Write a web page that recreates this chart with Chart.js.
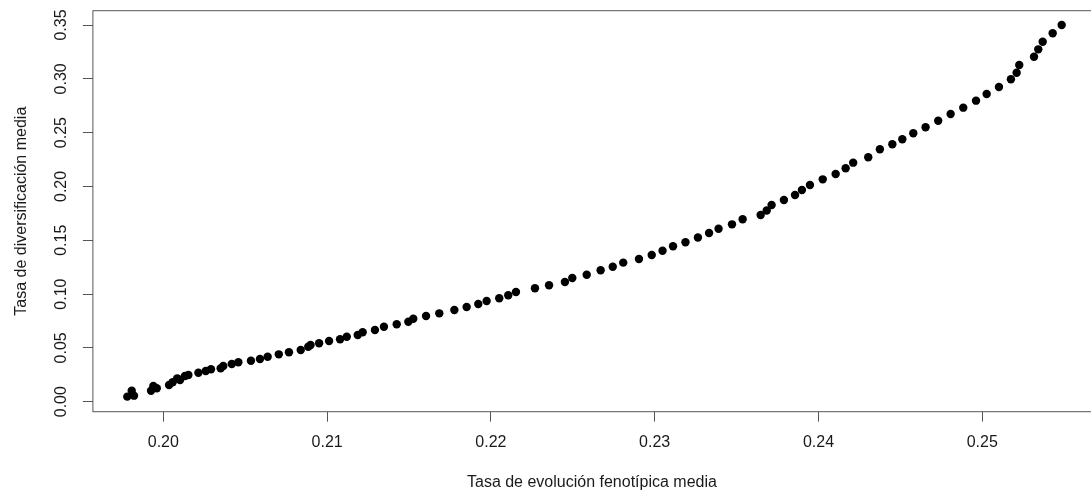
<!DOCTYPE html>
<html><head><meta charset="utf-8">
<script src="https://cdn.jsdelivr.net/npm/chart.js@4.4.1/dist/chart.umd.min.js"></script>
<style>html,body{margin:0;padding:0;background:#fff;overflow:hidden}#wrap{width:1091px;height:496px;position:relative}</style>
</head><body><div id="wrap"><canvas id="c" width="1091" height="496"></canvas></div>
<script>
const xValues = [
0.19780, 0.19807, 0.19821, 0.19925, 0.19939, 0.19960, 0.20035, 0.20057, 0.20085, 0.20102, 0.20132, 0.20153, 0.20214, 0.20259, 0.20291, 0.20350, 0.20366, 0.20418, 0.20458, 0.20535, 0.20590, 0.20637, 0.20705, 0.20767, 0.20839, 0.20885, 0.20899, 0.20951, 0.21012,
0.21079, 0.21120, 0.21187, 0.21217, 0.21292, 0.21347, 0.21425, 0.21496, 0.21526, 0.21604, 0.21685, 0.21777, 0.21852, 0.21923, 0.21974, 0.22051, 0.22106, 0.22153, 0.22269, 0.22355, 0.22452, 0.22497, 0.22585, 0.22670, 0.22744, 0.22808,
0.22904, 0.22982, 0.23048, 0.23112, 0.23188, 0.23264, 0.23332, 0.23390, 0.23472, 0.23537, 0.23647, 0.23684, 0.23714, 0.23789, 0.23857, 0.23899, 0.23948, 0.24026, 0.24105, 0.24166, 0.24212, 0.24304,
0.24375, 0.24451, 0.24512, 0.24579, 0.24654, 0.24731, 0.24807, 0.24884, 0.24962, 0.25027, 0.25102, 0.25175, 0.25210, 0.25226, 0.25316, 0.25342, 0.25369, 0.25430, 0.25485
];
const yValues = [
0.0047, 0.0102, 0.0056, 0.0102, 0.0146, 0.0125, 0.0155, 0.0180, 0.0217, 0.0202, 0.0239, 0.0248, 0.0269, 0.0285, 0.0301, 0.0310, 0.0332, 0.0350, 0.0366, 0.0381, 0.0397, 0.0418, 0.0440, 0.0459, 0.0480, 0.0511, 0.0527, 0.0543, 0.0564,
0.0580, 0.0604, 0.0620, 0.0645, 0.0666, 0.0697, 0.0719, 0.0743, 0.0771, 0.0796, 0.0821, 0.0852, 0.0880, 0.0908, 0.0936, 0.0961, 0.0989, 0.1019, 0.1054, 0.1082, 0.1112, 0.1149, 0.1180, 0.1221, 0.1254, 0.1292,
0.1326, 0.1363, 0.1403, 0.1444, 0.1481, 0.1526, 0.1567, 0.1607, 0.1648, 0.1695, 0.1735, 0.1777, 0.1828, 0.1874, 0.1921, 0.1967, 0.2013, 0.2066, 0.2116, 0.2169, 0.2221, 0.2271,
0.2345, 0.2392, 0.2438, 0.2494, 0.2550, 0.2611, 0.2673, 0.2732, 0.2797, 0.2859, 0.2924, 0.2996, 0.3057, 0.3128, 0.3205, 0.3274, 0.3345, 0.3423, 0.3500
];
const xTicks = [0.20, 0.21, 0.22, 0.23, 0.24, 0.25];
const yTicks = [0.00, 0.05, 0.10, 0.15, 0.20, 0.25, 0.30, 0.35];
const xTitle = 'Tasa de evolución fenotípica media';
const yTitle = 'Tasa de diversificación media';

const FONT = {family: '"Liberation Sans", Arial, sans-serif', size: 16};
const TEXT = '#1a1a1a';
const LINE = '#555555';

const points = xValues.map((x, i) => ({x: x, y: yValues[i]}));

const framePlugin = {
  id: 'frame',
  afterDraw(chart) {
    const ca = chart.chartArea, ctx = chart.ctx;
    ctx.save();
    ctx.strokeStyle = LINE;
    ctx.lineWidth = 1;
    ctx.strokeRect(ca.left, ca.top, ca.right - ca.left + 10, ca.bottom - ca.top);
    ctx.restore();
  }
};

function zeroPad(s) { s.paddingTop = 0; s.paddingBottom = 0; s.paddingLeft = 0; s.paddingRight = 0; }

new Chart(document.getElementById('c'), {
  type: 'scatter',
  data: {datasets: [{
    data: points,
    backgroundColor: '#000000',
    borderColor: '#000000',
    pointRadius: 4.2,
    pointBorderWidth: 0,
    pointHoverRadius: 4.2
  }]},
  options: {
    responsive: false,
    animation: false,
    layout: {autoPadding: false, padding: {top: 10.7, right: 0, left: 0, bottom: 0}},
    plugins: {legend: {display: false}, tooltip: {enabled: false}},
    scales: {
      x: {
        type: 'linear',
        min: 0.19570, max: 0.25664,
        afterBuildTicks: s => { s.ticks = xTicks.map(v => ({value: v})); },
        afterFit: s => { s.height = 84.3; zeroPad(s); },
        ticks: {callback: v => Number(v).toFixed(2), font: FONT, color: TEXT, padding: 11.7, maxRotation: 0, autoSkip: false},
        grid: {drawOnChartArea: false, drawTicks: true, tickLength: 10, tickColor: LINE, tickWidth: 1},
        border: {display: false},
        title: {display: true, text: xTitle, font: FONT, color: TEXT, padding: {top: 0, bottom: 3.4}}
      },
      y: {
        type: 'linear',
        min: -0.0093, max: 0.3633,
        afterBuildTicks: s => { s.ticks = yTicks.map(v => ({value: v})); },
        afterFit: s => { s.width = 92.9; zeroPad(s); },
        ticks: {callback: v => Number(v).toFixed(2), font: FONT, color: TEXT, padding: 5.7, minRotation: 90, maxRotation: 90, crossAlign: 'center', autoSkip: false},
        grid: {drawOnChartArea: false, drawTicks: true, tickLength: 10, tickColor: LINE, tickWidth: 1},
        border: {display: false},
        title: {display: true, text: yTitle, font: FONT, color: TEXT, padding: {top: 12, bottom: 0}}
      }
    }
  },
  plugins: [framePlugin]
});
</script></body></html>
